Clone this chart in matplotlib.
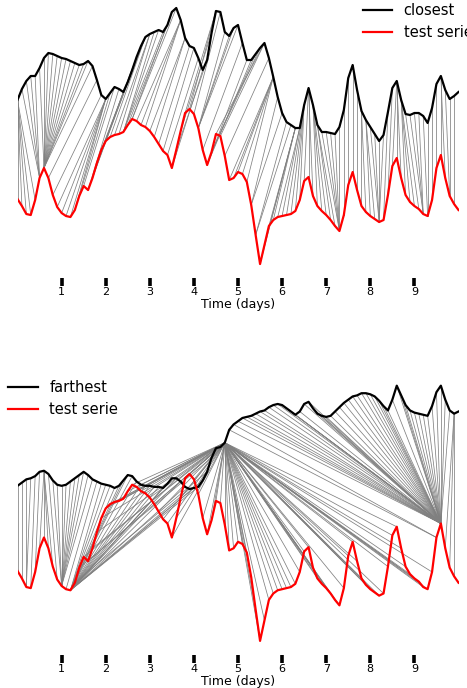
import matplotlib
matplotlib.use("Agg")
import matplotlib.pyplot as plt
import numpy as np

# series sampled every 0.1 day (0 .. 10 days)
days = np.linspace(0, 10, 101)

test_serie = [18.1, 17.4, 16.6, 16.5, 18.0, 20.2, 21.2, 20.2, 18.5, 17.3,
              16.7, 16.4, 16.3, 17.0, 18.4, 19.4, 19.0, 20.2, 21.7, 23.0,
              23.9, 24.3, 24.5, 24.6, 24.8, 25.5, 26.1, 25.9, 25.5, 25.3,
              24.9, 24.3, 23.6, 22.9, 22.5, 21.2, 23.0, 24.9, 26.7, 27.1,
              26.6, 25.2, 23.0, 21.5, 22.8, 24.6, 24.4, 22.4, 20.0, 20.2,
              20.8, 20.6, 19.8, 17.5, 14.5, 11.6, 13.5, 15.4, 16.0, 16.3,
              16.4, 16.5, 16.6, 16.9, 18.0, 19.9, 20.3, 18.4, 17.4, 16.9,
              16.5, 16.0, 15.4, 14.9, 16.5, 19.5, 20.8, 19.0, 17.4, 16.8,
              16.4, 16.1, 15.8, 16.0, 18.5, 21.4, 22.2, 20.2, 18.5, 17.8,
              17.4, 17.1, 16.6, 16.4, 18.0, 21.2, 22.5, 20.2, 18.4, 17.6,
              17.0]

closest = [18.0, 19.1, 19.9, 20.4, 20.4, 21.2, 22.2, 22.7, 22.6, 22.4,
           22.2, 22.1, 21.9, 21.7, 21.5, 21.6, 21.9, 21.4, 20.0, 18.5,
           18.1, 18.7, 19.3, 19.1, 18.8, 19.8, 21.0, 22.3, 23.4, 24.3,
           24.6, 24.8, 25.0, 24.8, 25.5, 26.8, 27.2, 26.0, 24.2, 23.4,
           23.2, 22.2, 21.0, 22.0, 24.7, 26.9, 26.8, 24.8, 24.4, 25.2,
           25.5, 23.7, 22.0, 22.0, 22.6, 23.2, 23.7, 22.2, 20.3, 18.3,
           16.7, 15.8, 15.5, 15.2, 15.2, 17.5, 19.2, 17.5, 15.5, 14.8,
           14.8, 14.7, 14.6, 15.3, 17.0, 20.2, 21.5, 19.0, 16.9, 16.0,
           15.3, 14.6, 13.9, 14.5, 16.8, 19.2, 19.9, 18.0, 16.6, 16.5,
           16.7, 16.7, 16.4, 15.7, 17.2, 19.6, 20.4, 19.0, 18.1, 18.4,
           18.8]

farthest = [16.0, 16.3, 16.6, 16.7, 16.9, 17.3, 17.4, 17.1, 16.5, 16.1,
            16.0, 16.1, 16.4, 16.7, 17.0, 17.3, 17.0, 16.6, 16.4, 16.2,
            16.1, 16.0, 15.8, 16.0, 16.5, 17.0, 16.9, 16.4, 16.1, 16.0,
            16.0, 15.9, 15.9, 15.8, 16.2, 16.7, 16.7, 16.4, 15.9, 15.7,
            15.8, 15.9, 16.5, 17.3, 18.6, 19.5, 19.6, 20.0, 21.2, 21.7,
            22.0, 22.3, 22.4, 22.5, 22.7, 22.9, 23.0, 23.3, 23.5, 23.6,
            23.5, 23.2, 22.9, 22.6, 22.9, 23.6, 23.8, 23.2, 22.7, 22.5,
            22.4, 22.5, 22.9, 23.3, 23.7, 24.0, 24.3, 24.4, 24.6, 24.6,
            24.5, 24.3, 23.9, 23.4, 23.0, 24.0, 25.3, 24.4, 23.5, 23.0,
            22.8, 22.7, 22.6, 22.5, 23.4, 24.7, 25.3, 24.0, 23.0, 22.7,
            22.9]

offset = 10.0  # test serie drawn below the reference serie


def dtw_path(a, b):
    a = np.asarray(a)
    b = np.asarray(b)
    n, m = len(a), len(b)
    acc = np.full((n + 1, m + 1), np.inf)
    acc[0, 0] = 0.0
    for i in range(1, n + 1):
        for j in range(1, m + 1):
            d = (a[i - 1] - b[j - 1]) ** 2
            acc[i, j] = d + min(acc[i - 1, j], acc[i, j - 1], acc[i - 1, j - 1])
    i, j = n, m
    path = [(i - 1, j - 1)]
    while i > 1 or j > 1:
        steps = [(acc[i - 1, j - 1], i - 1, j - 1),
                 (acc[i - 1, j], i - 1, j),
                 (acc[i, j - 1], i, j - 1)]
        _, i, j = min(steps)
        path.append((i - 1, j - 1))
    return path[::-1]


def draw(ax, ref, name):
    ref = np.asarray(ref)
    test = np.asarray(test_serie) - offset
    for i, j in dtw_path(ref, test_serie):
        ax.plot([days[i], days[j]], [ref[i], test[j]], color="gray", lw=0.55, zorder=1)
    ax.plot(days, ref, color="k", lw=1.6, label=name, zorder=3)
    ax.plot(days, test, color="red", lw=1.6, label="test serie", zorder=3)
    ax.set_xlim(0, 10)
    for s in ax.spines.values():
        s.set_visible(False)
    ax.set_yticks([])
    ax.set_xticks(range(1, 10))
    ax.tick_params(axis="x", length=5.5, width=2.6, labelsize=8, pad=1)
    ax.set_xlabel("Time (days)", fontsize=9, labelpad=0.5)


fig = plt.figure(figsize=(4.67, 6.88), dpi=100)
ax1 = fig.add_axes([0.0375, 0.5959, 0.9443, 0.4041])
ax2 = fig.add_axes([0.0375, 0.0480, 0.9443, 0.4113])

draw(ax1, closest, "closest")
ax1.set_ylim(0.2, 28.0)
draw(ax2, farthest, "farthest")
ax2.set_ylim(0.29, 26.57)

fig.legend(handles=ax1.get_lines()[-2:], loc="upper left", bbox_to_anchor=(0.777, 0.996),
           frameon=False, fontsize=10.5, borderpad=0, borderaxespad=0)
fig.legend(handles=ax2.get_lines()[-2:], loc="upper left", bbox_to_anchor=(0.018, 0.448),
           frameon=False, fontsize=10.5, borderpad=0, borderaxespad=0)

plt.savefig("out.png", dpi=100)
